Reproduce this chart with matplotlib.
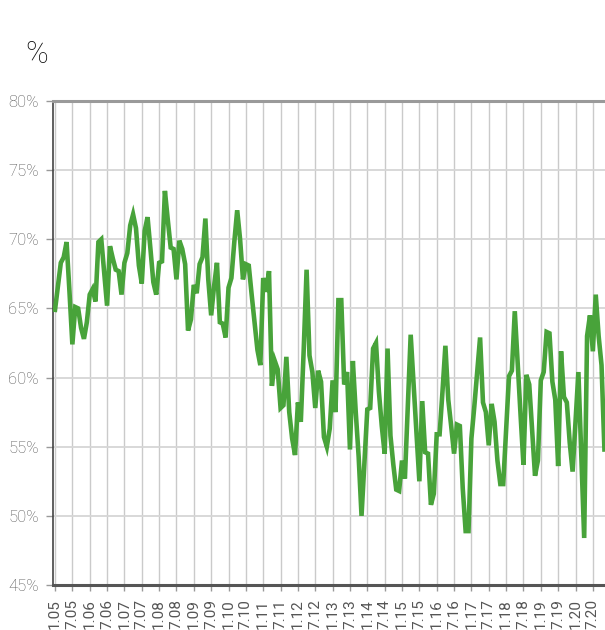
import numpy as np
import matplotlib.pyplot as plt

plt.rcParams['font.family'] = ['Roboto', 'DejaVu Sans']

# monthly share, %, Jan 2005 onwards
share = [
    64.9, 66.6, 68.3, 68.7, 69.8, 66.2, 62.4, 65.1, 65.0, 63.6,
    62.8, 64.0, 66.0, 66.4, 65.5, 69.8, 70.0, 67.6, 65.2, 69.5,
    68.6, 67.8, 67.7, 66.0, 68.3, 69.0, 71.0, 71.8, 70.8, 68.1,
    66.8, 70.6, 71.6, 69.3, 66.9, 66.0, 68.3, 68.4, 73.5, 71.4,
    69.4, 69.3, 67.1, 69.9, 69.3, 68.2, 63.4, 64.2, 66.7, 66.1,
    68.2, 68.7, 71.5, 67.1, 64.5, 66.6, 68.3, 64.0, 63.9, 62.9,
    66.5, 67.2, 69.8, 72.1, 70.0, 67.1, 68.2, 68.1, 66.0, 64.0,
    62.0, 60.9, 67.2, 66.2, 67.7, 59.4, 61.2, 60.6, 57.8, 58.0,
    61.5, 57.5, 55.6, 54.4, 58.2, 56.8, 62.0, 67.8, 61.6, 60.4,
    57.8, 60.5, 59.7, 55.7, 55.0, 56.3, 59.8, 57.5, 65.6, 65.6,
    59.5, 60.4, 54.8, 61.2, 57.5, 54.3, 50.0, 53.8, 57.7, 57.8,
    62.1, 62.5, 59.0, 56.5, 54.5, 62.1, 55.8, 53.7, 51.9, 51.8,
    54.0, 52.7, 58.0, 63.1, 59.5, 56.0, 52.5, 58.3, 54.6, 54.5,
    50.8, 51.6, 55.9, 55.9, 59.0, 62.3, 58.4, 56.5, 54.5, 56.6,
    56.5, 52.0, 48.9, 48.9, 55.6, 57.9, 60.4, 62.9, 58.2, 57.5,
    55.1, 58.1, 56.8, 54.0, 52.3, 52.3, 56.2, 60.1, 60.5, 64.8,
    61.0, 57.3, 53.7, 60.2, 59.5, 56.2, 52.9, 54.0, 59.8, 60.4,
    63.3, 63.2, 59.7, 58.4, 53.6, 61.9, 58.6, 58.2, 55.3, 53.2,
    56.8, 60.4, 54.4, 48.4, 63.0, 64.5, 61.9, 66.0, 63.0, 60.9,
    54.8,
]
tick_labels = [f'{m}.{y:02d}' for y in range(5, 21) for m in (1, 7)]
y_ticks = [45, 50, 55, 60, 65, 70, 75, 80]

months = np.arange(len(share))

fig = plt.figure(figsize=(6.05, 6.30), dpi=100)
ax = fig.add_axes([0.0876, 0.0714, 0.9124, 0.7683])

ax.plot(months, share, color='#48a33a', lw=3.3, solid_joinstyle='miter', zorder=3)

ax.set_xlim(-0.7, 190.2)
ax.set_ylim(45, 80)
ax.set_xticks(np.arange(0, 6 * len(tick_labels), 6))
ax.set_xticklabels(tick_labels, rotation=90, fontsize=11, color='#555555')
ax.set_yticks(y_ticks)
ax.set_yticklabels([f'{v}%' for v in y_ticks], fontsize=12, color='#555555',
                   fontweight='light')

ax.grid(axis='y', color='#d6d6d6', lw=1.3)
ax.grid(axis='x', color='#cacaca', lw=1.0)
ax.set_axisbelow(True)

ax.tick_params(axis='x', length=4, width=1, color='#999999', pad=6)
ax.tick_params(axis='y', length=5, width=1, color='#999999', pad=5)

ax.spines['right'].set_visible(False)
ax.spines['top'].set_color('#9a9a9a')
ax.spines['top'].set_linewidth(2.2)
ax.spines['bottom'].set_color('#555555')
ax.spines['bottom'].set_linewidth(2.2)
ax.spines['left'].set_color('#444444')
ax.spines['left'].set_linewidth(1.2)

fig.text(0.061, 0.913, '%', fontsize=22, color='#111111', ha='center', va='center',
         fontweight='light')

fig.savefig('out.png', dpi=100)
